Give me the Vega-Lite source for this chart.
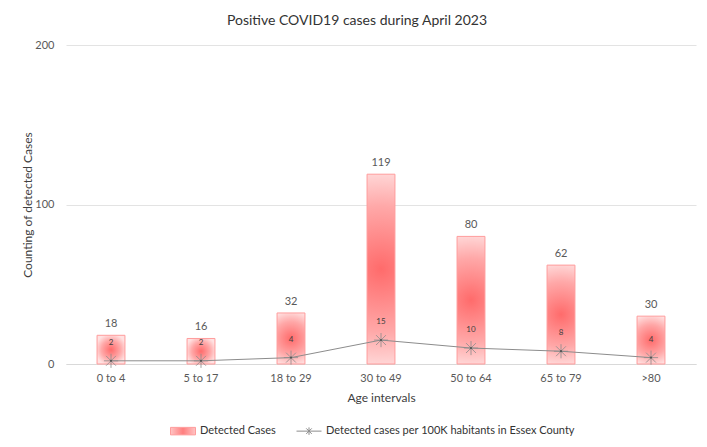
{
  "$schema": "https://vega.github.io/schema/vega-lite/v6.json",
  "width": 630,
  "height": 319,
  "autosize": {"type": "none"},
  "padding": {"left": 66, "top": 45, "right": 11, "bottom": 83},
  "background": "white",
  "config": {
    "font": "Lato",
    "view": {"stroke": null},
    "axis": {"labelColor": "#595959", "titleColor": "#404040", "labelFont": "Lato", "titleFont": "Lato"}
  },
  "title": {
    "text": "Positive COVID19 cases during April 2023",
    "fontSize": 14,
    "fontWeight": "normal",
    "color": "#333333",
    "font": "Lato",
    "anchor": "middle",
    "dx": -24,
    "offset": 11
  },
  "data": {
    "values": [
      {"age": "0 to 4", "cases": 18, "per100k": 2},
      {"age": "5 to 17", "cases": 16, "per100k": 2},
      {"age": "18 to 29", "cases": 32, "per100k": 4},
      {"age": "30 to 49", "cases": 119, "per100k": 15},
      {"age": "50 to 64", "cases": 80, "per100k": 10},
      {"age": "65 to 79", "cases": 62, "per100k": 8},
      {"age": ">80", "cases": 30, "per100k": 4}
    ]
  },
  "encoding": {
    "x": {
      "field": "age",
      "type": "nominal",
      "sort": null,
      "scale": {"paddingInner": 0.69, "paddingOuter": 0.345},
      "axis": {
        "title": "Age intervals",
        "titleFontSize": 12,
        "titleFontWeight": "normal",
        "titlePadding": 9,
        "labelAngle": 0,
        "labelFontSize": 11,
        "labelPadding": 8,
        "ticks": false,
        "domainColor": "#d9d9d9",
        "domainWidth": 1
      }
    }
  },
  "layer": [
    {
      "mark": {
        "type": "bar",
        "fill": {
          "gradient": "radial",
          "x1": 0.5, "y1": 0.5, "r1": 0,
          "x2": 0.5, "y2": 0.5, "r2": 0.55,
          "stops": [
            {"offset": 0, "color": "#ff6b6b"},
            {"offset": 0.6, "color": "#ffa8a8"},
            {"offset": 1, "color": "#ffe2e2"}
          ]
        },
        "strokeWidth": 1
      },
      "encoding": {
        "y": {
          "field": "cases",
          "type": "quantitative",
          "scale": {"domain": [0, 200]},
          "axis": {
            "title": "Counting of detected Cases",
            "titleFontSize": 12,
            "titleFontWeight": "normal",
            "titlePadding": 0,
            "values": [0, 100, 200],
            "labelFontSize": 11,
            "labelPadding": 12,
            "ticks": false,
            "domain": false,
            "gridColor": "#e3e3e3",
            "gridWidth": 1
          }
        },
        "stroke": {
          "datum": "Detected Cases",
          "type": "nominal",
          "scale": {
            "domain": ["Detected Cases", "Detected cases per 100K habitants in Essex County"],
            "range": ["#ff9c9c", "#8c8c8c"]
          },
          "legend": {
            "title": null,
            "orient": "none",
            "legendX": 104,
            "legendY": 373,
            "direction": "horizontal",
            "labelFontSize": 11,
            "labelColor": "#333333",
            "labelFont": "Lato",
            "labelLimit": 400,
            "columnPadding": 18,
            "symbolSize": 625,
            "labelOffset": 4,
            "encode": {
              "symbols": {
                "update": {
                  "shape": {"signal": "datum.value === 'Detected Cases' ? 'M-1,-0.3H1V0.3H-1Z' : 'M-1,0H1M-0.22,-0.22L0.22,0.22M-0.22,0.22L0.22,-0.22M0,-0.3V0.3'"},
                  "fill": {"signal": "datum.value === 'Detected Cases' ? {gradient: 'linear', x1: 0, y1: 0, x2: 1, y2: 0, stops: [{offset: 0, color: '#ffc4c4'}, {offset: 0.5, color: '#ff7f7f'}, {offset: 1, color: '#ffc4c4'}]} : 'transparent'"},
                  "stroke": {"signal": "datum.value === 'Detected Cases' ? '#ffb0b0' : '#8c8c8c'"},
                  "strokeWidth": {"value": 1},
                  "opacity": {"value": 1}
                }
              }
            }
          }
        }
      }
    },
    {
      "mark": {"type": "text", "baseline": "bottom", "dy": -6, "fontSize": 11, "color": "#595959", "font": "Lato"},
      "encoding": {
        "y": {"field": "cases", "type": "quantitative"},
        "text": {"field": "cases", "type": "quantitative"}
      }
    },
    {
      "mark": {"type": "line", "strokeWidth": 1},
      "encoding": {
        "y": {"field": "per100k", "type": "quantitative"},
        "stroke": {
          "datum": "Detected cases per 100K habitants in Essex County",
          "type": "nominal",
          "legend": {
            "title": null,
            "orient": "none",
            "legendX": 104,
            "legendY": 373,
            "direction": "horizontal",
            "labelFontSize": 11,
            "labelColor": "#333333",
            "labelFont": "Lato",
            "labelLimit": 400,
            "columnPadding": 18,
            "symbolSize": 625,
            "labelOffset": 4,
            "encode": {
              "symbols": {
                "update": {
                  "shape": {"signal": "datum.value === 'Detected Cases' ? 'M-1,-0.3H1V0.3H-1Z' : 'M-1,0H1M-0.22,-0.22L0.22,0.22M-0.22,0.22L0.22,-0.22M0,-0.3V0.3'"},
                  "fill": {"signal": "datum.value === 'Detected Cases' ? {gradient: 'linear', x1: 0, y1: 0, x2: 1, y2: 0, stops: [{offset: 0, color: '#ffc4c4'}, {offset: 0.5, color: '#ff7f7f'}, {offset: 1, color: '#ffc4c4'}]} : 'transparent'"},
                  "stroke": {"signal": "datum.value === 'Detected Cases' ? '#ffb0b0' : '#8c8c8c'"},
                  "strokeWidth": {"value": 1},
                  "opacity": {"value": 1}
                }
              }
            }
          }
        }
      }
    },
    {
      "mark": {
        "type": "point",
        "shape": "M-1,0H1M0,-1V1M-0.7,-0.7L0.7,0.7M-0.7,0.7L0.7,-0.7",
        "size": 200,
        "filled": false,
        "stroke": "#8c8c8c",
        "strokeWidth": 0.8,
        "opacity": 1
      },
      "encoding": {
        "y": {"field": "per100k", "type": "quantitative"}
      }
    },
    {
      "mark": {"type": "point", "shape": "circle", "size": 5, "filled": true, "color": "#555555", "opacity": 1},
      "encoding": {
        "y": {"field": "per100k", "type": "quantitative"}
      }
    },
    {
      "mark": {"type": "text", "baseline": "middle", "dy": -18, "fontSize": 8, "color": "#404040", "font": "Lato"},
      "encoding": {
        "y": {"field": "per100k", "type": "quantitative"},
        "text": {"field": "per100k", "type": "quantitative"}
      }
    }
  ]
}
